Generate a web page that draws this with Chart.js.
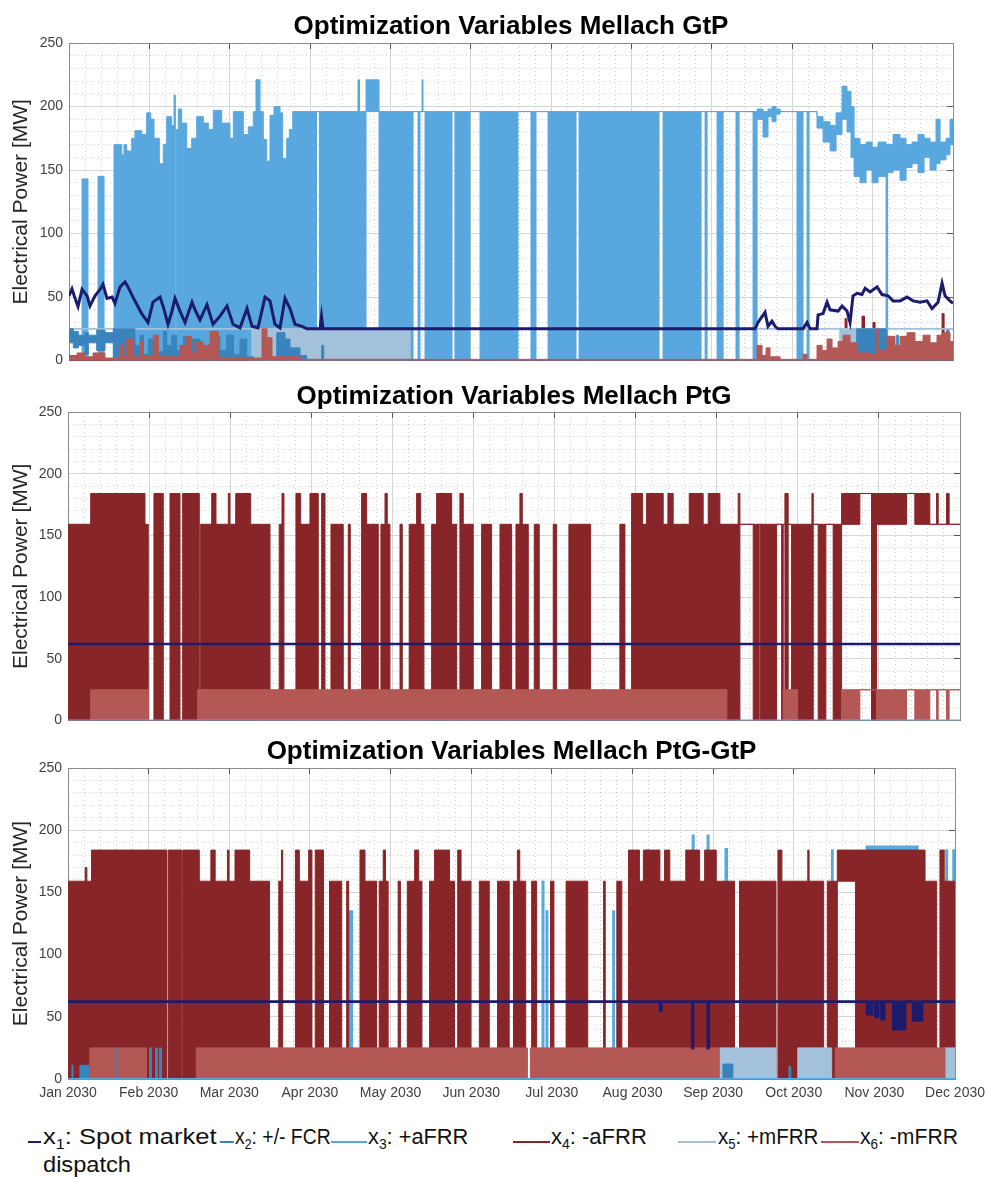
<!DOCTYPE html>
<html><head><meta charset="utf-8">
<script src="https://cdn.jsdelivr.net/npm/chart.js@4.4.0/dist/chart.umd.min.js"></script>
<style>
html,body{margin:0;padding:0;background:#fff}
body{width:991px;height:1178px;position:relative;overflow:hidden;font-family:"Liberation Sans",Arial,sans-serif}
canvas{position:absolute;left:0}
.sw{position:absolute;height:2px}
.lt{position:absolute;font-family:"Liberation Sans",Arial,sans-serif;font-size:22px;color:#111;white-space:nowrap;line-height:26px;transform-origin:0 50%}
.lt sub{font-size:14px;vertical-align:-5px;line-height:0}
</style></head><body>
<canvas id="c1" width="991" height="375" style="top:0px"></canvas>
<canvas id="c2" width="991" height="360" style="top:375px"></canvas>
<canvas id="c3" width="991" height="380" style="top:735px"></canvas>

<div class="sw" style="left:28px;top:1141px;width:13px;background:#1d1b6b"></div>
<div class="lt" data-w="174" style="left:43px;top:1124px">x<sub>1</sub>: Spot market</div>
<div class="lt" data-w="88" style="left:43px;top:1152px">dispatch</div>
<div class="sw" style="left:220px;top:1141px;width:14px;background:#3a84bd"></div>
<div class="lt" data-w="96" style="left:235px;top:1124px">x<sub>2</sub>: +/- FCR</div>
<div class="sw" style="left:331px;top:1141px;width:36px;background:#58a8df"></div>
<div class="lt" data-w="100" style="left:368px;top:1124px">x<sub>3</sub>: +aFRR</div>
<div class="sw" style="left:513px;top:1141px;width:37px;background:#882528"></div>
<div class="lt" data-w="96" style="left:551px;top:1124px">x<sub>4</sub>: -aFRR</div>
<div class="sw" style="left:678px;top:1141px;width:38px;background:#a3c1da"></div>
<div class="lt" data-w="100" style="left:718px;top:1124px">x<sub>5</sub>: +mFRR</div>
<div class="sw" style="left:821px;top:1141px;width:38px;background:#b45856"></div>
<div class="lt" data-w="98" style="left:860px;top:1124px">x<sub>6</sub>: -mFRR</div>

<script>
// ---------------- data (x in months from 1 Jan 2030) ----------------
const MONTHS = ['Jan 2030','Feb 2030','Mar 2030','Apr 2030','May 2030','Jun 2030','Jul 2030','Aug 2030','Sep 2030','Oct 2030','Nov 2030','Dec 2030'];
const Y_TICKS = [0,50,100,150,200,250];

// Panel 1: GtP   -- bands are [month, low, high]
const gtpAfrrUp = [[0,0,0],[0.162,0,143],[0.236,0,0],[0.361,0,145],[0.436,0,0],[0.56,0,170],[0.656,0,162],[0.684,0,170],[0.718,0,165],[0.78,0,175],[0.821,0,181],[0.905,0,178],[0.967,0,195],[1.017,0,190],[1.058,0,175],[1.124,0,155],[1.174,0,170],[1.216,0,192],[1.278,0,185],[1.307,0,209],[1.323,0,0],[1.336,0,182],[1.36,0,198],[1.402,0,187],[1.465,0,167],[1.527,0,175],[1.589,0,192],[1.672,0,187],[1.734,0,182],[1.796,0,197],[1.9,0,187],[2.003,0,175],[2.045,0,196],[2.169,0,178],[2.231,0,184],[2.293,0,196],[2.327,0,221],[2.377,0,196],[2.418,0,174],[2.46,0,157],[2.501,0,193],[2.551,0,200],[2.626,0,195],[2.659,0,159],[2.709,0,175],[2.742,0,182],[2.784,0,196],[3.08,196,196],[3.117,0,196],[3.596,0,221],[3.615,0,196],[3.696,196,221],[3.858,0,196],[4.281,196,196],[4.343,0,196],[4.368,196,196],[4.393,196,221],[4.405,196,196],[4.43,0,196],[4.766,196,196],[4.803,0,196],[4.99,196,196],[5.115,0,196],[5.587,196,196],[5.749,0,196],[5.811,196,196],[5.961,0,196],[6.309,196,196],[6.347,0,196],[7.342,196,196],[7.392,0,196],[7.865,196,196],[7.915,0,196],[7.94,196,196],[8.064,0,196],[8.139,196,196],[8.3,0,196],[8.338,196,196],[8.512,0,196],[8.562,190,198],[8.636,176,196],[8.698,192,198],[8.748,188,200],[8.798,194,198],[8.848,196,196],[9.059,0,196],[9.134,196,196],[9.184,0,196],[9.209,196,196],[9.308,183,192],[9.383,172,188],[9.47,165,185],[9.545,178,195],[9.619,190,216],[9.681,180,212],[9.731,160,200],[9.769,145,175],[9.843,140,170],[9.918,150,172],[9.993,140,168],[10.067,145,172],[10.167,0,170],[10.185,148,170],[10.254,150,178],[10.341,142,175],[10.416,152,170],[10.49,155,172],[10.565,148,178],[10.64,160,175],[10.714,150,172],[10.789,155,190],[10.839,158,172],[10.913,162,175],[10.963,170,190]];
const gtpSpot = [[0,51],[0.037,56.5],[0.075,49],[0.112,42.6],[0.162,56],[0.224,51],[0.261,43],[0.324,51],[0.386,56],[0.423,60],[0.473,49],[0.535,50],[0.572,45],[0.635,58],[0.697,62],[0.734,58],[0.796,50],[0.846,44],[0.908,36.5],[0.983,30],[1.045,46],[1.132,50],[1.17,43],[1.232,28.6],[1.282,39],[1.319,49],[1.381,39],[1.444,30],[1.531,46],[1.568,40],[1.63,32],[1.717,44],[1.792,28.6],[1.879,35],[1.966,43],[2.041,28.6],[2.128,25.8],[2.215,41],[2.277,27],[2.352,25.8],[2.439,50],[2.501,47],[2.563,28.6],[2.626,25.8],[2.688,49],[2.75,41],[2.812,28.6],[2.899,27],[2.962,25],[3.123,25],[3.142,35],[3.161,25],[8.537,25],[8.574,30],[8.661,38],[8.698,27],[8.748,31],[8.786,27],[8.823,25],[9.134,25],[9.184,30],[9.221,25],[9.308,25],[9.321,36],[9.383,37],[9.433,46],[9.47,40],[9.57,39],[9.619,43],[9.681,39],[9.719,30],[9.756,51],[9.806,53],[9.868,52],[9.906,57],[9.968,54],[10.055,58],[10.117,52],[10.192,51],[10.254,47],[10.341,47],[10.428,50],[10.503,47],[10.59,46],[10.677,47],[10.739,41],[10.814,46],[10.864,61],[10.901,51],[10.963,47],[11,45]];
const gtpFcr = [[0,14,25],[0.054,10,23],[0.116,12,20],[0.199,5,22],[0.24,14,20],[0.345,8,24],[0.448,14,22],[0.551,0,25],[0.821,0,12],[0.884,0,20],[0.925,0,5],[0.987,0,17],[1.091,0,7],[1.174,0,23],[1.216,0,12],[1.278,0,20],[1.34,0,8],[1.422,0,19],[1.465,0,4],[1.527,0,17],[1.63,0,4],[1.714,0,12],[1.796,0,19],[1.879,0,8],[1.962,0,20],[2.045,0,5],[2.128,0,17],[2.211,0,3],[2.293,0,0],[2.585,0,22],[2.688,0,17],[2.75,0,10],[2.875,0,4],[2.958,0,0],[3.145,0,12],[3.17,0,0],[9.802,0,25],[10.175,0,0],[10.3,0,20],[10.32,0,0],[10.922,0,24],[10.95,0,0]];
const gtpMfrrUp = [[0,25,25],[2.277,0,25],[4.243,25,25],[9.594,8,25],[9.843,25,25]];
const gtpMfrrDn = [[0,0,4],[0.1,0,6],[0.199,0,3],[0.299,0,6],[0.448,0,2],[0.635,0,12],[0.676,0,3],[0.718,0,17],[0.8,0,3],[0.884,0,15],[0.925,0,4],[1.049,0,20],[1.111,0,3],[1.381,0,12],[1.465,0,19],[1.527,0,6],[1.589,0,15],[1.668,0,12],[1.755,0,23],[1.858,0,2],[2.402,0,25],[2.464,0,18],[2.526,0,3],[2.875,0,1],[8.562,0,12],[8.624,0,4],[8.674,0,10],[8.723,0,3],[8.848,0,1],[9.134,0,5],[9.184,0,1],[9.308,0,12],[9.371,0,8],[9.433,0,17],[9.495,0,10],[9.57,0,15],[9.632,0,20],[9.719,0,14],[9.806,0,6],[9.968,0,5],[10.043,0,25],[10.067,0,8],[10.179,0,19],[10.279,0,12],[10.341,0,19],[10.428,0,22],[10.527,0,15],[10.627,0,20],[10.714,0,14],[10.801,0,20],[10.876,0,22],[10.963,0,15]];
const gtpAfrrDn = [[0,0,0],[9.657,0,33],[9.681,0,0],[9.868,0,35],[9.899,0,0],[10.005,0,30],[10.03,0,0],[10.864,0,37],[10.889,0,0]];

// Panel 2: PtG
const ptgSpot = [[0,62],[11,62]];
const ptgFcrZero = [[0,0],[11,0]];
const ptgAfrrDn = [[0,0,159],[0.28,0,184],[0.949,0,159],[0.99,0,0],[1.06,0,184],[1.175,0,0],[1.258,0,184],[1.381,0,0],[1.414,0,184],[1.619,0,0],[1.636,0,159],[1.772,0,184],[1.825,0,159],[1.977,0,184],[1.997,0,159],[2.068,0,184],[2.253,0,159],[2.491,0,0],[2.605,0,159],[2.639,0,184],[2.663,0,0],[2.811,0,184],[2.869,0,159],[2.984,0,184],[3.086,0,0],[3.128,0,184],[3.169,0,0],[3.243,0,159],[3.394,0,0],[3.456,0,159],[3.481,0,0],[3.621,0,184],[3.683,0,159],[3.826,0,0],[3.859,0,159],[3.909,0,184],[3.937,0,159],[3.97,0,0],[4.094,0,159],[4.122,0,0],[4.208,0,159],[4.299,0,184],[4.349,0,159],[4.389,0,0],[4.484,0,159],[4.546,0,184],[4.731,0,159],[4.793,0,0],[4.833,0,184],[4.874,0,159],[4.997,0,0],[5.101,0,159],[5.224,0,0],[5.327,0,159],[5.471,0,0],[5.524,0,159],[5.573,0,184],[5.602,0,159],[5.676,0,0],[5.75,0,159],[5.811,0,0],[5.984,0,159],[6.026,0,0],[6.177,0,159],[6.445,0,0],[6.806,0,159],[6.868,0,0],[6.95,0,184],[7.086,0,159],[7.135,0,184],[7.34,0,159],[7.398,0,184],[7.463,0,159],[7.661,0,184],[7.833,0,159],[7.895,0,184],[8.039,0,159],[8.265,0,184],[8.286,159,159],[8.45,0,159],[8.524,159,159],[8.541,0,159],[8.738,159,159],[8.8,0,159],[8.82,159,159],[8.841,0,184],[8.881,159,159],[8.923,0,159],[9.174,0,184],[9.19,159,159],[9.251,0,159],[9.346,159,159],[9.436,0,159],[9.54,159,184],[9.765,184,184],[9.909,0,184],[9.971,159,184],[10.341,184,184],[10.443,159,184],[10.628,159,159],[10.711,159,184],[10.731,159,159],[10.834,159,184],[10.866,159,159]];
const ptgMfrrDn = [[0,0,0],[0.28,0,25],[0.99,0,0],[1.598,0,25],[8.125,0,0],[8.82,0,25],[8.997,0,0],[9.54,0,25],[9.765,25,25],[9.971,0,25],[10.341,25,25],[10.443,0,25],[10.628,25,25],[10.711,0,25],[10.731,25,25],[10.834,0,25],[10.866,25,25]];

// Panel 3: PtG-GtP
const pgSpot = [[0,62,62],[7.34,55,62],[7.36,62,62],[7.74,25,62],[7.752,62,62],[7.934,25,62],[7.947,62,62],[9.909,52,62],[9.971,62,62],[10.012,50,62],[10.049,62,62],[10.086,48,62],[10.123,62,62],[10.234,40,62],[10.382,62,62],[10.48,47,62],[10.591,62,62]];
const pgAfrrUp = [[0,0,0],[3.477,0,135],[3.526,0,0],[5.881,0,159],[5.9,0,0],[5.931,0,135],[5.949,0,0],[6.757,0,135],[6.775,0,0],[7.176,0,184],[7.194,0,0],[7.743,0,196],[7.762,0,0],[7.928,0,196],[7.947,0,0],[8.15,0,185],[8.175,0,0],[9.47,0,184],[9.486,0,0],[9.9,0,187],[10.54,0,0],[10.887,0,184],[10.905,0,0],[10.975,0,184]];
const pgAfrrDn = [[0,0,159],[0.213,0,170],[0.234,0,159],[0.292,0,184],[1.227,0,0],[1.245,0,184],[1.406,0,0],[1.422,0,184],[1.628,0,159],[1.772,0,184],[1.825,0,159],[1.977,0,184],[1.997,0,159],[2.071,0,184],[2.253,0,159],[2.499,0,0],[2.614,0,159],[2.647,0,184],[2.663,0,0],[2.82,0,184],[2.869,0,159],[2.984,0,184],[3.025,0,0],[3.066,0,184],[3.169,0,0],[3.243,0,159],[3.394,0,0],[3.456,0,159],[3.481,0,0],[3.621,0,184],[3.683,0,159],[3.826,0,0],[3.859,0,159],[3.909,0,184],[3.937,0,159],[3.97,0,0],[4.094,0,159],[4.122,0,0],[4.208,0,159],[4.299,0,184],[4.349,0,159],[4.389,0,0],[4.484,0,159],[4.546,0,184],[4.731,0,159],[4.793,0,0],[4.833,0,184],[4.874,0,159],[4.997,0,0],[5.101,0,159],[5.224,0,0],[5.327,0,159],[5.471,0,0],[5.524,0,159],[5.573,0,184],[5.602,0,159],[5.676,0,0],[5.75,0,159],[5.811,0,0],[5.984,0,159],[6.026,0,0],[6.177,0,159],[6.445,0,0],[6.642,0,159],[6.662,0,0],[6.806,0,159],[6.868,0,0],[6.95,0,184],[7.086,0,159],[7.135,0,184],[7.34,0,159],[7.398,0,184],[7.463,0,159],[7.661,0,184],[7.833,0,159],[7.895,0,184],[8.039,0,159],[8.265,0,0],[8.327,0,159],[8.78,0,0],[8.804,0,184],[8.853,0,159],[9.174,0,184],[9.19,0,159],[9.371,0,0],[9.416,0,159],[9.54,159,184],[9.765,0,184],[10.628,0,159],[10.772,0,0],[10.813,0,184],[10.866,0,159]];
const pgMfrrDn = [[0,0,0],[0.271,0,25],[0.592,0,0],[0.617,0,25],[0.974,0,0],[1.591,0,25],[5.697,0,0],[5.734,0,25],[8.076,0,0],[9.515,0,25],[10.875,0,0]];
const pgMfrrUp = [[0,0,0],[8.076,0,25],[8.78,0,0],[9.05,0,25],[9.47,0,0],[10.875,0,25]];
const pgFcr = [[0,0,0],[0.049,0,11],[0.062,0,0],[0.148,0,11],[0.271,0,0],[0.592,0,25],[0.617,0,0],[1.011,0,25],[1.036,0,0],[1.085,0,25],[1.11,0,0],[1.134,0,25],[1.159,0,0],[8.122,0,12],[8.245,0,0],[8.94,0,10],[8.964,0,0],[9.913,0,20],[9.938,0,0],[10.69,0,10],[10.702,0,0]];
const pgFcrZero = [[0,0],[11,0]];

// ---------------- styles ----------------
const C_SPOT = '#1d1b6b', C_FCR = '#3a84bd', C_AUP = '#58a8df', C_ADN = '#882528', C_MUP = '#a3c1da', C_MDN = '#b45856';
const FONT = '"Liberation Sans", Arial, sans-serif';
const X_END = 11;

function band(rows, color, order, bw) {
  const hi = rows.map(r => ({x: r[0], y: r[2]})); hi.push({x: X_END, y: rows[rows.length-1][2]});
  const lo = rows.map(r => ({x: r[0], y: r[1]})); lo.push({x: X_END, y: rows[rows.length-1][1]});
  return [
    {data: hi, borderColor: color, backgroundColor: color, borderWidth: bw, stepped: 'before', fill: '+1', pointRadius: 0, order},
    {data: lo, borderColor: color, backgroundColor: color, borderWidth: bw, stepped: 'before', fill: false, pointRadius: 0, order}
  ];
}
function line(rows, color, order, bw) {
  return {data: rows.map(r => ({x: r[0], y: r[1]})), borderColor: color, backgroundColor: color, borderWidth: bw, fill: false, pointRadius: 0, tension: 0, order};
}

const isMajX = v => Math.abs(v - Math.round(v)) < 1e-6;
const isMajY = v => Math.abs(v % 50) < 1e-6;
const BOX = '#8a8a8a';
function scales(g, showX) {
  return {
    x: {type: 'linear', min: 0, max: 11, position: 'bottom',
      afterBuildTicks: s => { const t = []; for (let i = 0; i <= 55; i++) t.push({value: i / 5}); s.ticks = t; },
      ticks: {display: showX, autoSkip: false, maxRotation: 0, minRotation: 0, padding: 6, color: '#404040', font: {family: FONT, size: 14},
        callback: v => isMajX(v) ? MONTHS[Math.round(v)] : ''},
      grid: {drawTicks: false, lineWidth: 1, color: c => (c.tick && isMajX(c.tick.value)) ? '#d6d6d6' : '#cfcfcf'},
      border: {display: true, color: BOX, width: 1, dash: c => (c.tick && !isMajX(c.tick.value)) ? [1, 3] : []},
      afterFit: s => { s.height = g.bottom; }},
    xt: {type: 'linear', min: 0, max: 11, position: 'top',
      afterBuildTicks: s => { const t = []; for (let i = 0; i <= 11; i++) t.push({value: i}); s.ticks = t; },
      ticks: {display: false},
      grid: {display: true, drawOnChartArea: false, drawTicks: true, tickLength: -6, tickColor: '#555', tickWidth: 1},
      border: {display: true, color: BOX, width: 1}, afterFit: s => { s.height = g.top; }},
    y: {type: 'linear', min: 0, max: 250, position: 'left',
      afterBuildTicks: s => { const t = []; for (let v = 0; v <= 250; v += 10) t.push({value: v}); s.ticks = t; },
      ticks: {autoSkip: false, padding: 6, color: '#404040', font: {family: FONT, size: 14},
        callback: v => (isMajY(v) && Y_TICKS.includes(v)) ? String(v) : ''},
      grid: {drawTicks: false, lineWidth: 1, color: c => (c.tick && isMajY(c.tick.value)) ? '#d6d6d6' : '#cfcfcf'},
      border: {display: true, color: BOX, width: 1, dash: c => (c.tick && !isMajY(c.tick.value)) ? [1, 3] : []},
      title: {display: true, text: 'Electrical Power [MW]', color: '#262626', font: {family: FONT, size: 21}, padding: {top: 9, bottom: 0}},
      afterFit: s => { s.width = g.left; }},
    yr: {type: 'linear', min: 0, max: 250, position: 'right',
      afterBuildTicks: s => { s.ticks = Y_TICKS.map(v => ({value: v})); },
      ticks: {display: false},
      grid: {display: true, drawOnChartArea: false, drawTicks: true, tickLength: -6, tickColor: '#555', tickWidth: 1},
      border: {display: true, color: BOX, width: 1}, afterFit: s => { s.width = g.right; }}
  };
}

const panelTitle = {
  id: 'panelTitle',
  afterDraw(chart, args, opts) {
    const {ctx, chartArea} = chart;
    ctx.save();
    ctx.font = 'bold 26px ' + FONT;
    ctx.fillStyle = '#000';
    ctx.textAlign = 'center';
    ctx.textBaseline = 'alphabetic';
    ctx.fillText(opts.text, (chartArea.left + chartArea.right) / 2, opts.y);
    ctx.restore();
  }
};

function makeChart(id, g, showX, title, titleY, datasets) {
  return new Chart(document.getElementById(id), {
    type: 'line',
    data: {datasets},
    options: {
      responsive: false, animation: false, devicePixelRatio: 1,
      layout: {padding: 0},
      plugins: {legend: {display: false}, tooltip: {enabled: false}, panelTitle: {text: title, y: titleY}},
      scales: scales(g, showX)
    },
    plugins: [panelTitle]
  });
}

// Panel 1
makeChart('c1', {top: 43, bottom: 9, left: 69, right: 38}, false, 'Optimization Variables Mellach GtP', 34, [
  ...band(gtpAfrrUp, C_AUP, 60, 1),
  ...band(gtpAfrrDn, C_ADN, 50, 1),
  ...band(gtpMfrrUp, C_MUP, 40, 1.5),
  ...band(gtpFcr, C_FCR, 30, 1),
  ...band(gtpMfrrDn, C_MDN, 20, 1),
  line(gtpSpot, C_SPOT, 10, 3)
]);
// Panel 2
makeChart('c2', {top: 37, bottom: 10, left: 68, right: 31}, false, 'Optimization Variables Mellach PtG', 29, [
  ...band(ptgAfrrDn, C_ADN, 50, 1),
  ...band(ptgMfrrDn, C_MDN, 20, 1),
  line(ptgFcrZero, C_AUP, 15, 2),
  line(ptgSpot, C_SPOT, 10, 2.5)
]);
// Panel 3
makeChart('c3', {top: 33, bottom: 36, left: 68, right: 31}, true, 'Optimization Variables Mellach PtG-GtP', 24, [
  ...band(pgAfrrUp, C_AUP, 60, 1.5),
  ...band(pgAfrrDn, C_ADN, 50, 1),
  ...band(pgMfrrUp, C_MUP, 40, 1),
  ...band(pgFcr, C_FCR, 30, 1),
  ...band(pgMfrrDn, C_MDN, 20, 1),
  line(pgFcrZero, C_AUP, 15, 2),
  ...band(pgSpot, C_SPOT, 10, 2.5)
]);

// fit legend labels to the widths they take in the figure
document.querySelectorAll('.lt').forEach(el => {
  const target = +el.dataset.w, w = el.scrollWidth;
  if (target && w) el.style.transform = 'scaleX(' + (target / w).toFixed(3) + ')';
});
</script>
</body></html>
